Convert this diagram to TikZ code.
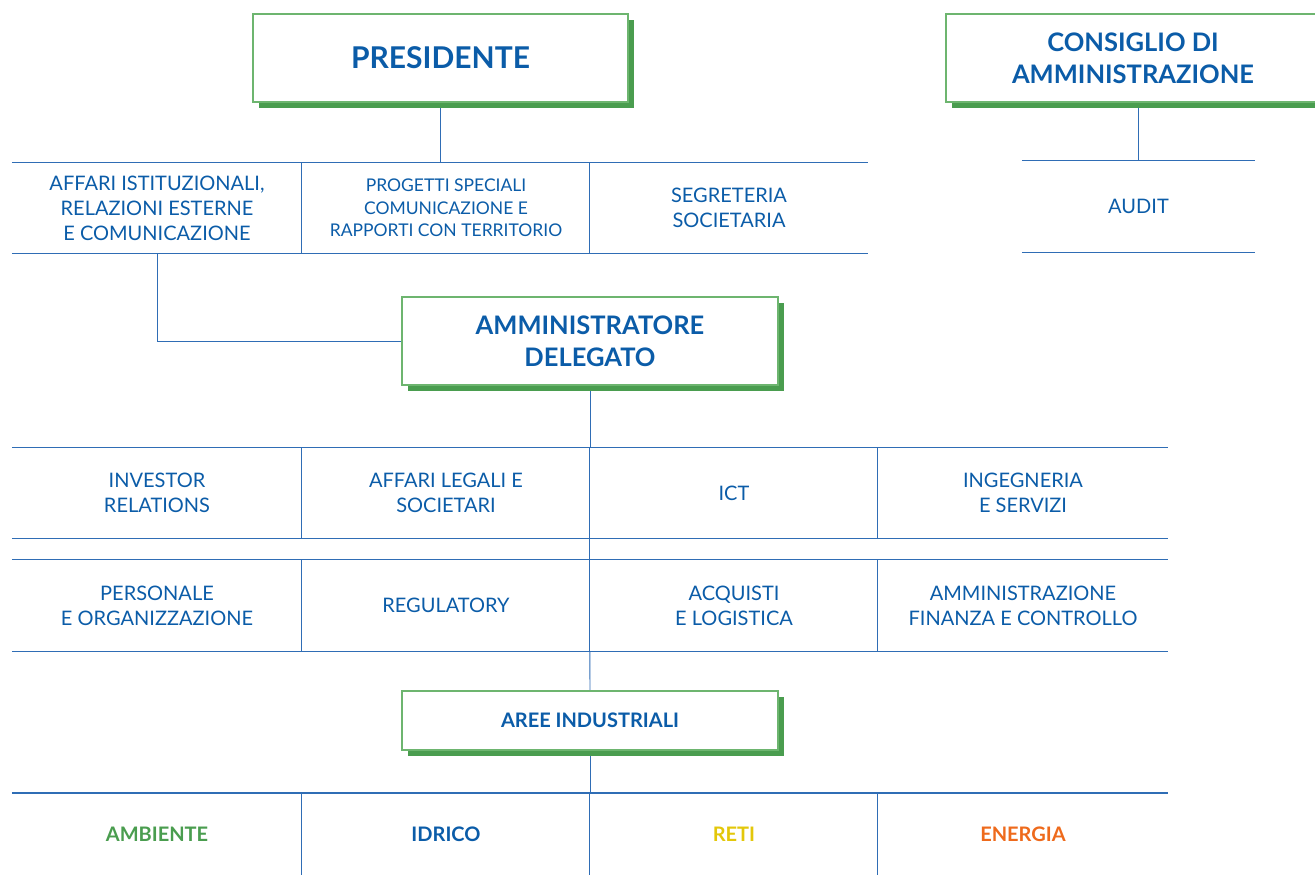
\documentclass[tikz,border=0pt]{standalone}
\usepackage{fontspec}
\setmainfont{Lato}
\usetikzlibrary{shadows,backgrounds}
\definecolor{txtblue}{HTML}{0B5CA8}
\definecolor{lineblue}{HTML}{2F6DB5}
\definecolor{shgreen}{HTML}{4A9D4F}
\definecolor{boxgreen}{HTML}{6DB56F}
\definecolor{retiyellow}{HTML}{E3C70A}
\definecolor{enorange}{HTML}{EE6A1C}
\begin{document}
\begin{tikzpicture}[x=1pt, y=-1pt,
    unitbox/.style={draw=boxgreen, line width=1.2pt, fill=white, minimum width=376pt, minimum height=88pt,
        inner sep=0pt, align=center, text=txtblue, font=\bfseries\fontsize{25.5}{32}\selectfont,
        drop shadow={shadow xshift=6pt, shadow yshift=-6pt, fill=shgreen, opacity=1}},
    cell/.style={minimum width=288pt, minimum height=90pt, inner sep=0pt, align=center, text=txtblue,
        font=\fontsize{20}{25}\selectfont},
    area/.style={cell, minimum height=82pt, font=\bfseries\fontsize{20}{24}\selectfont},
    wire/.style={draw=lineblue, line width=0.9pt}]
        \useasboundingbox (0,0) rectangle (1315,875);

        \node[unitbox, minimum width=375pt, font=\bfseries\fontsize{30}{32}\selectfont] (pres) at (440.5, 58) {PRESIDENTE};
        \node[unitbox, minimum width=374pt] (cda) at (1133, 58) {CONSIGLIO DI\\AMMINISTRAZIONE};

        \node[cell, minimum width=290pt] (aff) at (157, 208) {AFFARI ISTITUZIONALI,\\RELAZIONI ESTERNE\\E COMUNICAZIONE};
        \node[cell, font=\fontsize{17.5}{22.5}\selectfont] (prog) at (446, 208) {PROGETTI SPECIALI\\COMUNICAZIONE E\\RAPPORTI CON TERRITORIO};
        \node[cell, minimum width=278pt] (segr) at (729, 208) {SEGRETERIA\\SOCIETARIA};
        \node[cell, minimum width=233pt, minimum height=91pt] (audit) at (1138.5, 206.5) {AUDIT};

        \node[unitbox] (ad) at (590, 341) {AMMINISTRATORE\\DELEGATO};

        \node[cell, minimum width=290pt] (inv) at (157, 493) {INVESTOR\\RELATIONS};
        \node[cell] (leg) at (446, 493) {AFFARI LEGALI E\\SOCIETARI};
        \node[cell] (ict) at (734, 493) {ICT};
        \node[cell, minimum width=290pt] (ing) at (1023, 493) {INGEGNERIA\\E SERVIZI};

        \node[cell, minimum width=290pt, minimum height=91pt] (pers) at (157, 605.5) {PERSONALE\\E ORGANIZZAZIONE};
        \node[cell, minimum height=91pt] (reg) at (446, 605.5) {REGULATORY};
        \node[cell, minimum height=91pt] (acq) at (734, 605.5) {ACQUISTI\\E LOGISTICA};
        \node[cell, minimum width=290pt, minimum height=91pt] (amm) at (1023, 605.5) {AMMINISTRAZIONE\\FINANZA E CONTROLLO};

        \node[unitbox, minimum height=59pt, font=\bfseries\fontsize{20}{24}\selectfont] (aree) at (590, 720.5) {AREE INDUSTRIALI};

        \node[area, minimum width=290pt, text=shgreen] (amb) at (157, 834) {AMBIENTE};
        \node[area] (idr) at (446, 834) {IDRICO};
        \node[area, text=retiyellow] (ret) at (734, 834) {RETI};
        \node[area, minimum width=290pt, text=enorange] (ene) at (1023, 834) {ENERGIA};

        \begin{scope}[on background layer]
            \draw[wire] (pres.south) -- (pres.south |- aff.north);
            \draw[wire] (aff.north west) -- (segr.north east);
            \draw[wire] (aff.south west) -- (segr.south east);
            \draw[wire] (prog.north west) -- (prog.south west);
            \draw[wire] (segr.north west) -- (segr.south west);

            \draw[wire] (audit.north |- cda.south) -- (audit.north);
            \draw[wire] (audit.north west) -- (audit.north east);
            \draw[wire] (audit.south west) -- (audit.south east);

            \draw[wire] (aff.south) |- (ad.west);
            \draw[wire] (ad.south) -- (ad.south |- inv.north);
            \draw[wire] (ict.south west) -- (acq.north west);
            \draw[wire] (acq.south west) -- (aree.north);
            \draw[wire] (aree.south) -- (aree.south |- amb.north);

            \foreach \p/\q in {inv/ing, pers/amm} {
                \draw[wire] (\p.north west) -- (\q.north east);
                \draw[wire] (\p.south west) -- (\q.south east);
            }
            \foreach \c in {leg, ict, ing, reg, acq, amm, idr, ret, ene}
                \draw[wire] (\c.north west) -- (\c.south west);
            \draw[wire, line width=1.8pt] (amb.north west) -- (ene.north east);
        \end{scope}
    \end{tikzpicture}
\end{document}
